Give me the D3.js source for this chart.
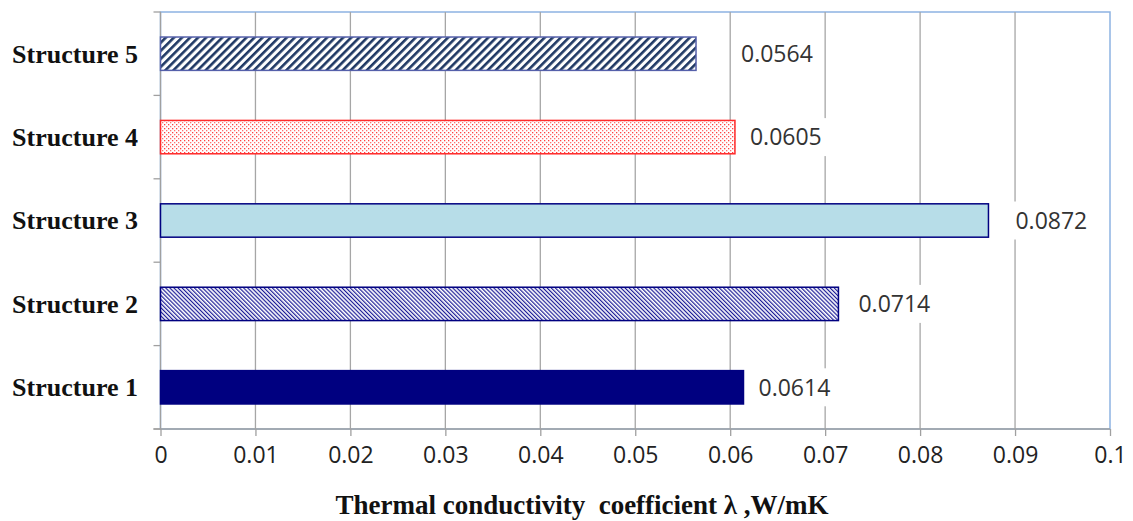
<!DOCTYPE html>
<html>
<head>
<meta charset="utf-8">
<script src="https://cdn.jsdelivr.net/npm/d3@7"></script>
<style>
  body { margin: 0; background: #fff; }
  svg { display: block; }
</style>
</head>
<body>
<script>
// dados do gráfico
var categories = ["Structure 1", "Structure 2", "Structure 3", "Structure 4", "Structure 5"];
var values = [0.0614, 0.0714, 0.0872, 0.0605, 0.0564];
var valueLabels = ["0.0614", "0.0714", "0.0872", "0.0605", "0.0564"];
var xTicks = [0, 0.01, 0.02, 0.03, 0.04, 0.05, 0.06, 0.07, 0.08, 0.09, 0.1];
var xTitle = "Thermal conductivity  coefficient \u03bb ,W/mK";

// estilo de cada barra (preenchimento / borda)
var barFills = ["#000080", "url(#hatch2)", "#b7dde8", "url(#dots4)", "url(#hatch5)"];
var barStrokes = ["#000080", "#000080", "#000080", "#ff2a2a", "#5560aa"];
// deslocamento manual dos rótulos (px depois do fim da barra)
var labelOffsets = [15, 20, 27, 15, 45];

// obs: "top" é reservado no window, por isso plotTop
var width = 1133, height = 521;
var plotLeft = 160.5, plotRight = 1110, plotTop = 12, plotBottom = 429;

var svg = d3.select("body").append("svg").attr("width", width).attr("height", height);

// padrões de hachura
var defs = svg.append("defs");

var p5 = defs.append("pattern").attr("id", "hatch5").attr("patternUnits", "userSpaceOnUse")
  .attr("width", 5.7).attr("height", 10).attr("patternTransform", "rotate(45)");
p5.append("rect").attr("width", 5.7).attr("height", 10).attr("fill", "#fff");
p5.append("rect").attr("width", 2.6).attr("height", 10).attr("fill", "#1f3864");

var p2 = defs.append("pattern").attr("id", "hatch2").attr("patternUnits", "userSpaceOnUse")
  .attr("width", 2.9).attr("height", 10).attr("patternTransform", "rotate(-45)");
p2.append("rect").attr("width", 2.9).attr("height", 10).attr("fill", "#fff");
p2.append("rect").attr("width", 1.2).attr("height", 10).attr("fill", "#1c1c96");

var p4 = defs.append("pattern").attr("id", "dots4").attr("patternUnits", "userSpaceOnUse")
  .attr("width", 4).attr("height", 4);
p4.append("rect").attr("width", 4).attr("height", 4).attr("fill", "#fff");
p4.append("rect").attr("x", 0).attr("y", 0).attr("width", 1.3).attr("height", 1.3).attr("fill", "#ff4040");
p4.append("rect").attr("x", 2).attr("y", 2).attr("width", 1.3).attr("height", 1.3).attr("fill", "#ff7070");

// escalas
var x = d3.scaleLinear().domain([0, 0.1]).range([plotLeft, plotRight]);
var y = d3.scaleBand().domain(categories.slice().reverse()).range([plotTop, plotBottom])
  .paddingInner(0.6).paddingOuter(0.3);

// borda da área do gráfico
svg.append("rect").attr("x", plotLeft).attr("y", plotTop).attr("width", plotRight - plotLeft).attr("height", plotBottom - plotTop)
  .attr("fill", "none").attr("stroke", "#8db3e2").attr("stroke-width", 1.5);

// linhas de grade
svg.append("g").selectAll("line").data(xTicks.slice(1, -1)).enter().append("line")
  .attr("x1", d => x(d)).attr("x2", d => x(d))
  .attr("y1", plotTop).attr("y2", plotBottom)
  .attr("stroke", "#a6a6a6").attr("stroke-width", 1.3);

// eixo x
var xAxis = svg.append("g").attr("transform", "translate(0," + plotBottom + ")")
  .call(d3.axisBottom(x).tickValues(xTicks).tickSize(7).tickSizeOuter(0).tickFormat(d => String(+d.toFixed(2))));
xAxis.select(".domain").attr("stroke", "#a0a0a0").attr("stroke-width", 1.3).attr("d", "M" + (plotLeft - 7) + ",0H" + plotRight);
xAxis.selectAll(".tick line").attr("stroke", "#a0a0a0").attr("stroke-width", 1.3);
xAxis.selectAll(".tick text").attr("y", 34).attr("dy", "0")
  .attr("font-family", "'Open Sans', sans-serif").attr("font-size", 23).attr("fill", "#222");

// eixo y (marcas entre categorias)
var bounds = d3.range(categories.length + 1).map(i => plotTop + i * y.step());
svg.append("line").attr("x1", plotLeft).attr("x2", plotLeft).attr("y1", plotTop).attr("y2", plotBottom)
  .attr("stroke", "#a0a0a0").attr("stroke-width", 1.3);
svg.append("g").selectAll("line").data(bounds).enter().append("line")
  .attr("x1", plotLeft - 7).attr("x2", plotLeft).attr("y1", d => d).attr("y2", d => d)
  .attr("stroke", "#a0a0a0").attr("stroke-width", 1.3);

svg.append("g").selectAll("text").data(categories).enter().append("text")
  .attr("x", 138).attr("y", d => y(d) + y.bandwidth() / 2).attr("dy", "0.34em")
  .attr("text-anchor", "end").attr("font-family", "'Liberation Serif', 'Times New Roman', serif")
  .attr("font-weight", "bold").attr("font-size", 26).attr("fill", "#111")
  .text(d => d);

// barras
svg.append("g").selectAll("rect").data(values).enter().append("rect")
  .attr("x", x(0)).attr("y", (d, i) => y(categories[i]))
  .attr("width", d => x(d) - x(0)).attr("height", y.bandwidth())
  .attr("fill", (d, i) => barFills[i]).attr("stroke", (d, i) => barStrokes[i]).attr("stroke-width", 1.5);

// rótulos de valor com fundo branco
var lbl = svg.append("g").selectAll("g").data(values).enter().append("g")
  .attr("transform", (d, i) => "translate(" + (x(d) + labelOffsets[i]) + "," + (y(categories[i]) + y.bandwidth() / 2) + ")");
lbl.append("rect").attr("x", -6).attr("y", -19).attr("width", 87).attr("height", 38).attr("fill", "#fff");
lbl.append("text").attr("dy", "0.36em")
  .attr("font-family", "'Open Sans', sans-serif").attr("font-size", 23).attr("fill", "#333")
  .text((d, i) => valueLabels[i]);

// título do eixo
svg.append("text").attr("x", 582).attr("y", 514).attr("text-anchor", "middle")
  .style("white-space", "pre")
  .attr("font-family", "'Liberation Serif', 'Times New Roman', serif")
  .attr("font-weight", "bold").attr("font-size", 27).attr("fill", "#111")
  .text(xTitle);
</script>
</body>
</html>
